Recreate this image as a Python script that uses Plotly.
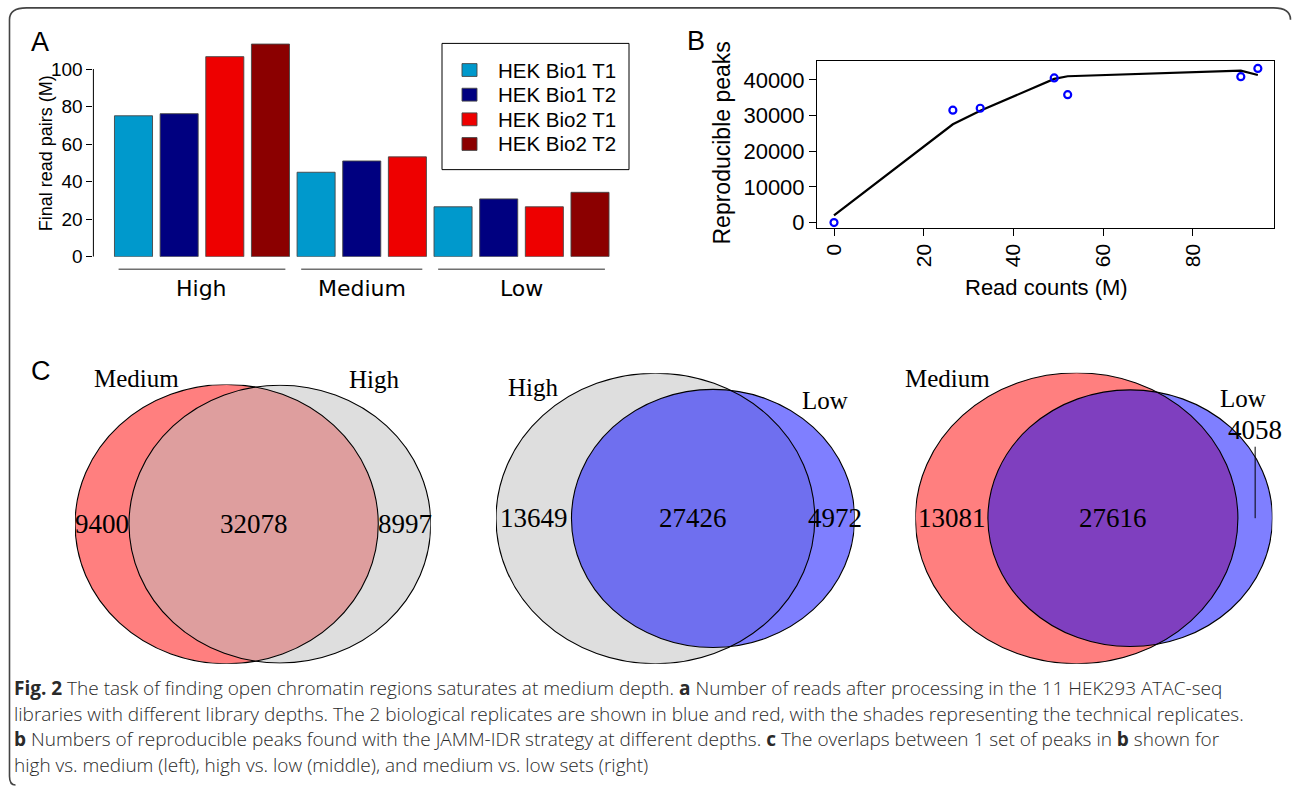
import math
import plotly.graph_objects as go

W, H = 1292, 797
def fx(p):
    return p / W
def fy(p):
    return 1 - p / H

SANS = "Liberation Sans, Arial, sans-serif"
SERIF = "Liberation Serif, Times New Roman, serif"

# ---------------- data ----------------
depths = ["High", "Medium", "Low"]
series_names = ["HEK Bio1 T1", "HEK Bio1 T2", "HEK Bio2 T1", "HEK Bio2 T2"]
series_colors = ["#0099CC", "#000080", "#EE0000", "#8B0000"]
bio1_t1 = [75.1, 45.0, 26.6]
bio1_t2 = [76.2, 51.0, 30.8]
bio2_t1 = [106.6, 53.2, 26.6]
bio2_t2 = [113.3, None, 34.3]
series_values = [bio1_t1, bio1_t2, bio2_t1, bio2_t2]

read_counts = [0, 26.5, 32.6, 49.1, 52.1, 90.7, 94.5]
repro_peaks = [0, 31500, 32050, 40550, 35850, 40900, 43200]
fit_peaks = [2050, 27550, 31350, 40270, 41020, 42580, 41380]

venn_sets = [("Medium", "High"), ("High", "Low"), ("Medium", "Low")]
venn_only_a = [9400, 13649, 13081]
venn_both = [32078, 27426, 27616]
venn_only_b = [8997, 4972, 4058]
set_fill = {"Medium": "rgba(255,0,0,0.5)", "High": "rgba(190,190,190,0.5)",
            "Low": "rgba(0,0,255,0.5)"}

fig = go.Figure()

def label(x, y, text, size, family=SANS, angle=0, color="black", xanchor="center", weight=None):
    f = dict(family=family, size=size, color=color)
    if weight is not None:
        f["weight"] = weight
    fig.add_annotation(x=fx(x), y=fy(y), xref="paper", yref="paper", text=text,
                       showarrow=False, textangle=angle, xanchor=xanchor, yanchor="middle",
                       font=f)

# ---------------- panel A: bars ----------------
A_AXIS_PX, A_RIGHT_PX = 93.4, 620.0
BAR0_PX, BAR_STEP_PX = 133.5, 45.65
A_Y0_PX, A_YTOP_PX, A_PX_PER_UNIT = 260.3, 32.0, 1.903
BAR_W = 1 / 1.2

positions = {s: [] for s in series_names}
vals = {s: [] for s in series_names}
group_span = []
idx = 0
for g, depth in enumerate(depths):
    first = idx
    for s, v in zip(series_names, series_values):
        if v[g] is not None:
            positions[s].append(idx)
            vals[s].append(v[g])
            idx += 1
    group_span.append((first, idx - 1))

for s, c in zip(series_names, series_colors):
    fig.add_trace(go.Bar(x=positions[s], y=vals[s], name=s, width=BAR_W, showlegend=False,
                         marker=dict(color=c, line=dict(color="rgba(70,70,70,0.9)", width=1)),
                         xaxis="x", yaxis="y"))

fig.update_layout(
    xaxis=dict(domain=[fx(A_AXIS_PX), fx(A_RIGHT_PX)],
               range=[(A_AXIS_PX - BAR0_PX) / BAR_STEP_PX, (A_RIGHT_PX - BAR0_PX) / BAR_STEP_PX],
               visible=False, anchor="y"),
    yaxis=dict(domain=[fy(A_Y0_PX), fy(A_YTOP_PX)],
               range=[0, (A_Y0_PX - A_YTOP_PX) / A_PX_PER_UNIT],
               tickvals=[0, 20, 40, 60, 80, 100], ticks="outside", ticklen=6, tickwidth=1,
               tickcolor="black", showline=False, showgrid=False, zeroline=False,
               tickfont=dict(family=SANS, size=19, color="black"), anchor="x"),
)
fig.add_shape(type="line", xref="x domain", yref="y", x0=0, x1=0, y0=0, y1=100,
              line=dict(color="black", width=1))

for (first, last), depth in zip(group_span, depths):
    fig.add_shape(type="line", xref="x", yref="paper",
                  x0=first - BAR_W / 2 + 0.09, x1=last + BAR_W / 2 - 0.09,
                  y0=fy(273), y1=fy(273), line=dict(color="#707070", width=1.5))
    fig.add_annotation(x=(first + last) / 2, y=fy(293), xref="x", yref="paper",
                       text=depth, showarrow=False, xanchor="center", yanchor="middle",
                       font=dict(family="DejaVu Sans", size=22, color="black"))

label(46, 155.5, "Final read pairs (M)", 18, angle=-90)

# legend (drawn as a boxed key)
LEG_L, LEG_T, LEG_R, LEG_B = 442, 44, 629, 172
fig.add_shape(type="rect", xref="paper", yref="paper", x0=fx(LEG_L), x1=fx(LEG_R),
              y0=fy(LEG_B), y1=fy(LEG_T), line=dict(color="black", width=1),
              fillcolor="white", layer="above")
for k, (s, c) in enumerate(zip(series_names, series_colors)):
    cy = 71 + 25 * k
    fig.add_shape(type="rect", xref="paper", yref="paper", x0=fx(462), x1=fx(477),
                  y0=fy(cy + 6.5), y1=fy(cy - 6.5), fillcolor=c,
                  line=dict(color="rgba(70,70,70,0.9)", width=1), layer="above")
    label(496, cy, s, 20.5, xanchor="left")

# ---------------- panel B: scatter + fit ----------------
fig.add_trace(go.Scatter(x=read_counts, y=fit_peaks, mode="lines", showlegend=False,
                         line=dict(color="black", width=2.2), xaxis="x2", yaxis="y2"))
fig.add_trace(go.Scatter(x=read_counts, y=repro_peaks, mode="markers", showlegend=False,
                         marker=dict(symbol="circle-open", size=7, color="blue",
                                     line=dict(width=2.2, color="blue")),
                         xaxis="x2", yaxis="y2"))
fig.update_layout(
    xaxis2=dict(domain=[fx(817), fx(1274)], range=[-3.79, 98.1], anchor="y2",
                tickvals=[0, 20, 40, 60, 80], tickangle=-90, ticks="outside", ticklen=7,
                showline=True, mirror=True, linecolor="black", linewidth=1, showgrid=False,
                zeroline=False, tickcolor="black",
                tickfont=dict(family=SANS, size=21, color="black")),
    yaxis2=dict(domain=[fy(230.7), fy(62)], range=[-1382, 45248], anchor="x2",
                tickvals=[0, 10000, 20000, 30000, 40000], tickformat="d", ticks="outside",
                ticklen=7, showline=True, mirror=True, linecolor="black", linewidth=1,
                showgrid=False, zeroline=False, tickcolor="black",
                tickfont=dict(family=SANS, size=22, color="black")),
)
label(722, 145.5, "Reproducible peaks", 23, angle=-90)
label(1046, 292, "Read counts (M)", 22)

# ---------------- panel C: area-proportional Venn diagrams ----------------
def lens_area(r1, r2, d):
    if d >= r1 + r2:
        return 0.0
    if d <= abs(r1 - r2):
        return math.pi * min(r1, r2) ** 2
    a1 = math.acos((d * d + r1 * r1 - r2 * r2) / (2 * d * r1))
    a2 = math.acos((d * d + r2 * r2 - r1 * r1) / (2 * d * r2))
    return r1 * r1 * a1 + r2 * r2 * a2 - 0.5 * math.sqrt(
        (-d + r1 + r2) * (d + r1 - r2) * (d - r1 + r2) * (d + r1 + r2))

def solve_d(r1, r2, target):
    lo, hi = abs(r1 - r2) + 1e-9, r1 + r2
    for _ in range(200):
        mid = (lo + hi) / 2
        if lens_area(r1, r2, mid) > target:
            lo = mid
        else:
            hi = mid
    return (lo + hi) / 2

VENN_CX_PX = [252.9, 675.3, 1093.9]
VENN_W_PX = [355.7, 358.6, 357.0]
VENN_BOTTOM_PX = 673.0
VENN_ASPECT = [1.071, 1.082, 1.093]

for i in range(3):
    xa = "x%d" % (i + 3)
    ya = "y%d" % (i + 3)
    na, nb = venn_sets[i]
    ra = math.sqrt((venn_only_a[i] + venn_both[i]) / math.pi)
    rb = math.sqrt((venn_only_b[i] + venn_both[i]) / math.pi)
    d = solve_d(ra, rb, venn_both[i])
    xmin = min(-ra, d - rb)
    xmax = max(ra, d + rb)
    rmax = max(ra, rb)
    sx = VENN_W_PX[i] / (xmax - xmin)
    sy = sx / VENN_ASPECT[i]
    h_px = 2 * rmax * sy
    fig.update_layout(**{
        "xaxis%d" % (i + 3): dict(domain=[fx(VENN_CX_PX[i] - VENN_W_PX[i] / 2),
                                          fx(VENN_CX_PX[i] + VENN_W_PX[i] / 2)],
                                  range=[xmin, xmax], visible=False, anchor=ya),
        "yaxis%d" % (i + 3): dict(domain=[fy(VENN_BOTTOM_PX), fy(VENN_BOTTOM_PX - h_px)],
                                  range=[-rmax, rmax], visible=False, anchor=xa),
    })
    circles = [(0.0, ra, na), (d, rb, nb)]
    for cx, r, name in circles:
        fig.add_shape(type="circle", xref=xa, yref=ya, x0=cx - r, x1=cx + r, y0=-r, y1=r,
                      fillcolor=set_fill[name], line=dict(width=0))
    for cx, r, name in circles:
        fig.add_shape(type="circle", xref=xa, yref=ya, x0=cx - r, x1=cx + r, y0=-r, y1=r,
                      fillcolor="rgba(0,0,0,0)", line=dict(color="black", width=1.1))
    vfont = dict(family=SERIF, size=27, color="black")
    x_a_only = (-ra + (d - rb)) / 2
    x_both = ((d - rb) + ra) / 2
    x_b_only = (ra + d + rb) / 2
    fig.add_annotation(x=x_a_only, y=0, xref=xa, yref=ya, text=str(venn_only_a[i]),
                       showarrow=False, font=vfont, xanchor="center", yanchor="middle")
    fig.add_annotation(x=x_both, y=0, xref=xa, yref=ya, text=str(venn_both[i]),
                       showarrow=False, font=vfont, xanchor="center", yanchor="middle")
    if i == 2:
        fig.add_annotation(x=x_b_only, y=0, xref=xa, yref=ya, text=str(venn_only_b[i]),
                           showarrow=True, arrowhead=0, arrowwidth=1, arrowcolor="black",
                           ax=0, ay=-88, font=vfont, xanchor="center", yanchor="middle")
    else:
        fig.add_annotation(x=x_b_only, y=0, xref=xa, yref=ya, text=str(venn_only_b[i]),
                           showarrow=False, font=vfont, xanchor="center", yanchor="middle")

cat_labels = [("Medium", 136, 384), ("High", 374, 385), ("High", 533, 393), ("Low", 824.6, 406),
              ("Medium", 947, 384), ("Low", 1242.5, 404)]
for t, x, y in cat_labels:
    label(x, y, t, 25, family=SERIF)

# ---------------- panel letters ----------------
for t, x, y in [("A", 39.6, 42.5), ("B", 696, 41.7), ("C", 40.5, 375.8)]:
    label(x, y, t, 27)

# ---------------- caption ----------------
caption = [
    "<b>Fig. 2</b> The task of finding open chromatin regions saturates at medium depth. <b>a</b> Number of reads after processing in the 11 HEK293 ATAC-seq",
    "libraries with different library depths. The 2 biological replicates are shown in blue and red, with the shades representing the technical replicates.",
    "<b>b</b> Numbers of reproducible peaks found with the JAMM-IDR strategy at different depths. <b>c</b> The overlaps between 1 set of peaks in <b>b</b> shown for",
    "high vs. medium (left), high vs. low (middle), and medium vs. low sets (right)",
]
for k, line in enumerate(caption):
    label(12, 698 + 25.8 * k, line, 19, family="Open Sans", color="#2a2a2a",
          xanchor="left", weight=300)

# ---------------- frame (kept inside the canvas) ----------------
L, T, R, rr = 9.5, 8, 1290.5, 17
path = ("M {r},{t2} Q {r},{t} {r2},{t} L {l2},{t} Q {l},{t} {l},{t2} "
        "L {l},{b1} Q {l},{b2} {l3},{b2}").format(
    r=fx(R), t=fy(T), t2=fy(T + 12), r2=fx(R - rr),
    l=fx(L), l2=fx(L + rr), b1=fy(787), b2=fy(796), l3=fx(L + 6))
fig.add_shape(type="path", xref="paper", yref="paper", path=path,
              line=dict(color="#444444", width=1.6), fillcolor="rgba(0,0,0,0)")

fig.update_layout(
    width=W, height=H, margin=dict(l=0, r=0, t=0, b=0),
    paper_bgcolor="white", plot_bgcolor="white", barmode="overlay",
    showlegend=False,
)

fig.write_html("out.html")
